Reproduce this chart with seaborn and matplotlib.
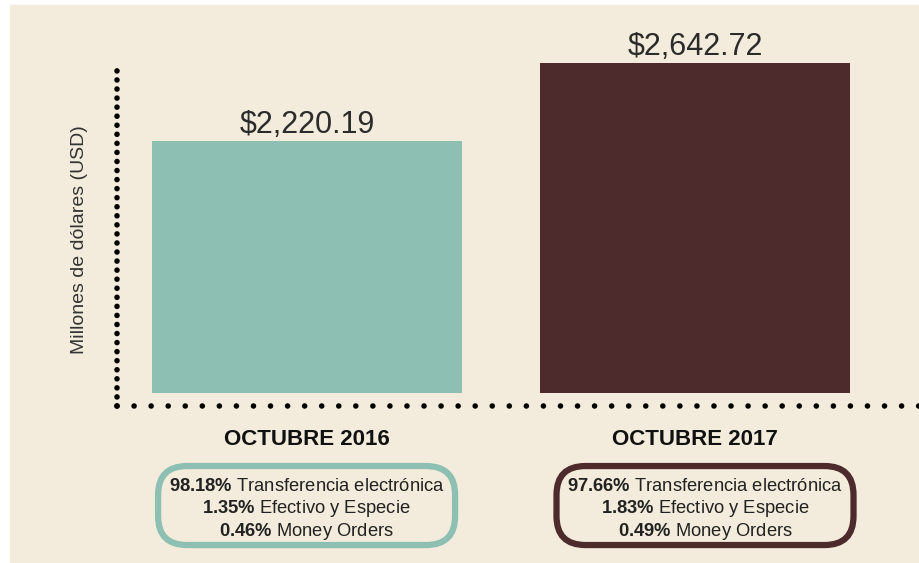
import matplotlib.pyplot as plt
import matplotlib.transforms as mtransforms
import seaborn as sns
from matplotlib.patches import Rectangle, FancyBboxPatch

# datos
categorias = ["OCTUBRE 2016", "OCTUBRE 2017"]
montos = [2220.19, 2642.72]
etiquetas = ["$2,220.19", "$2,642.72"]
transferencia = ["98.18", "97.66"]
efectivo = ["1.35", "1.83"]
money_orders = ["0.46", "0.49"]
colores = ["#8dc0b3", "#4d2a2b"]
beige = "#f3ebdb"

sns.set_style("white")
plt.rcParams['font.family'] = ['Liberation Sans', 'DejaVu Sans']
plt.rcParams['mathtext.fontset'] = 'custom'
plt.rcParams['mathtext.rm'] = 'Liberation Sans'
plt.rcParams['mathtext.bf'] = 'Liberation Sans:bold'

fig = plt.figure(figsize=(9.2, 5.63), dpi=100, facecolor="white")
fig.patches.append(Rectangle((10 / 920, 1 / 563), 1, 1 - 6 / 563,
                             transform=fig.transFigure, color=beige, zorder=-1))

ax = fig.add_axes([117 / 920, 170 / 563, 803 / 920, 330 / 563])
ax.set_facecolor("none")

sns.barplot(x=categorias, y=montos, hue=categorias, palette=colores,
            saturation=1, width=0.8, legend=False, linewidth=0, ax=ax)
ax.set_xlim(-0.49, 1.58)
ax.set_ylim(855, 2642.72)

# etiquetas de valor
for cont, lab in zip(ax.containers, etiquetas):
    ax.bar_label(cont, labels=[lab], padding=1, fontsize=22, color="#2b2b2b",
                 annotation_clip=False)

# ejes
sns.despine(ax=ax, left=True, bottom=True)
ax.set_yticks([])
ax.set_xticks(range(len(categorias)))
ax.set_xticklabels(categorias, fontsize=16, fontweight="bold", color="#111111")
ax.tick_params(axis="x", length=0, pad=26)
ax.set_xlabel("")
ax.set_ylabel("Millones de dólares (USD)", fontsize=14, color="#333333")
ax.yaxis.set_label_coords(-0.036, 0.464)

# ejes punteados
off = -13 / 330
ax.plot([0, 0], [off, 1.003], transform=ax.transAxes, clip_on=False, color="black",
        lw=4, linestyle=(0, (0.01, 1.62)), dash_capstyle="round", zorder=5)
ax.plot([0, 1], [off, off], transform=ax.transAxes, clip_on=False, color="black",
        lw=4, linestyle=(0, (0.01, 3.06)), dash_capstyle="round", zorder=5)

# cajas con desglose
trans = mtransforms.blended_transform_factory(ax.transData, ax.transAxes)
px_x = 1 / 387.9  # un pixel en unidades de datos
px_y = 1 / 330
dx = [-0.5, 10]  # ajuste fino en pixeles
for i, col in enumerate(colores):
    cx = i + dx[i] * px_x
    w, h = 297 * px_x, 79 * px_y
    caja = FancyBboxPatch((cx - w / 2, -0.341 - h / 2), w, h,
                          boxstyle=f"round,pad=0,rounding_size={29 * px_x}",
                          mutation_aspect=px_y / px_x, transform=trans,
                          fc=beige, ec=col, lw=4.5, clip_on=False, zorder=3)
    ax.add_patch(caja)
    txt = (rf"$\mathbf{{{transferencia[i]}\%}}$ Transferencia electrónica" + "\n"
           + rf"$\mathbf{{{efectivo[i]}\%}}$ Efectivo y Especie" + "\n"
           + rf"$\mathbf{{{money_orders[i]}\%}}$ Money Orders")
    ax.text(cx, -0.355, txt, transform=trans, ha="center", va="center",
            multialignment="center", fontsize=13.2, linespacing=1.15,
            color="#222222", zorder=4)

fig.savefig("out.png", dpi=100, facecolor=fig.get_facecolor())
